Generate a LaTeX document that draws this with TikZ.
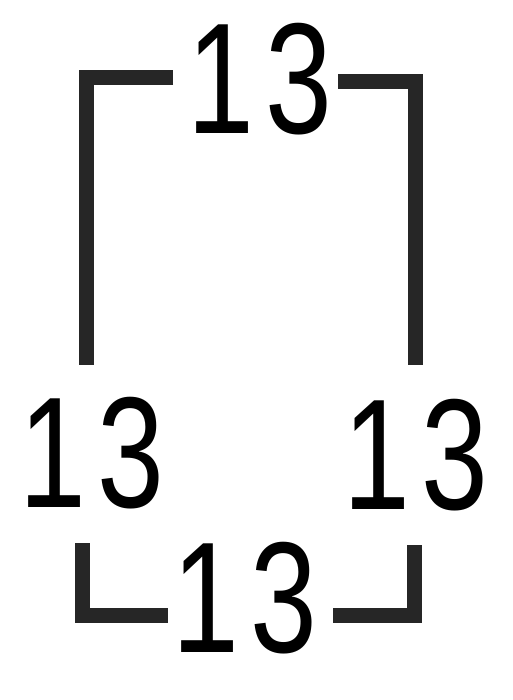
\documentclass[tikz,border=0pt]{standalone}
\usepackage{fontspec}
\setmainfont{Liberation Sans}
\tikzset{
  bracket/.style={line width=15pt,line join=miter,black!85},
  num/.style={inner sep=0pt,font=\fontsize{158}{158}\selectfont,xscale=0.76,black}
}
\newcommand{\thirteen}{1\kern14pt3}
\begin{document}
\begin{tikzpicture}[x=1pt,y=-1pt]
    \useasboundingbox (0,0) rectangle (512,700);

    % Upper bracket
    \draw[bracket] (173,78) -- (86,78) -- (86,365);
    \draw[bracket] (338,82) -- (415,82) -- (415,365);
    \node[num] (top) at (260,79) {\thirteen};

    % Side numbers
    \node[num] (left) at (92,453) {\thirteen};
    \node[num] (right) at (416,455) {\thirteen};

    % Lower bracket
    \draw[bracket] (82,543) -- (82,615) -- (168,615);
    \draw[bracket] (333,615) -- (414,615) -- (414,545);
    \node[num] (bottom) at (245,598) {\thirteen};
\end{tikzpicture}
\end{document}
